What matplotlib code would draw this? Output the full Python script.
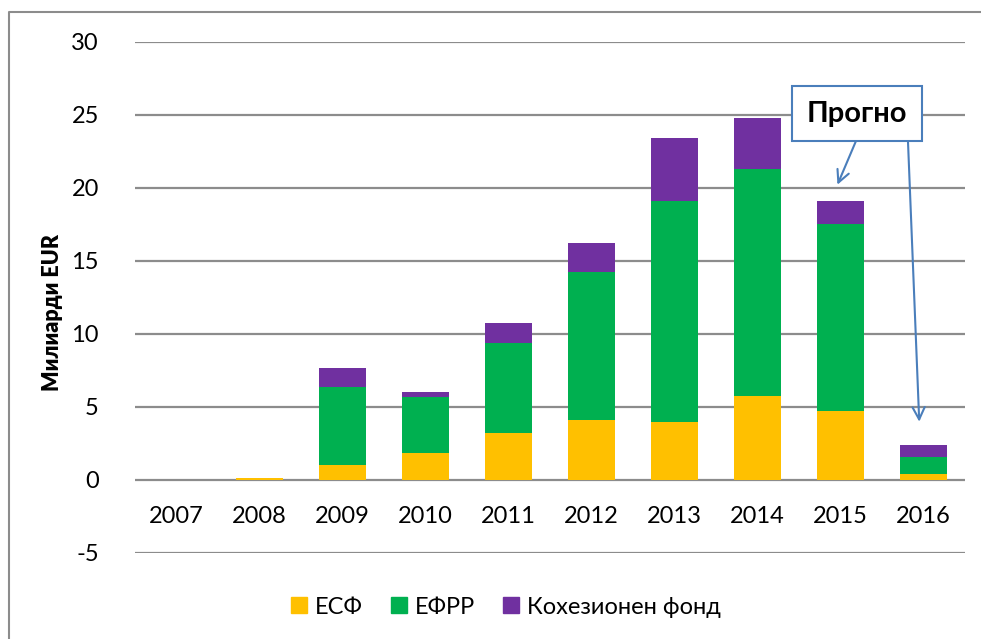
import numpy as np
import matplotlib.pyplot as plt
from matplotlib.lines import Line2D
from matplotlib.patches import Patch

plt.rcParams['font.family'] = ['Lato', 'DejaVu Sans']
plt.rcParams['axes.unicode_minus'] = False

godini = ['2007', '2008', '2009', '2010', '2011', '2012', '2013', '2014', '2015', '2016']
esf = [0.0, 0.15, 1.0, 1.85, 3.2, 4.1, 3.97, 5.75, 4.7, 0.4]
efrr = [0.0, 0.0, 5.35, 3.85, 6.2, 10.15, 15.15, 15.55, 12.85, 1.2]
kohezionen = [0.0, 0.0, 1.3, 0.35, 1.35, 1.95, 4.3, 3.5, 1.55, 0.8]

zhalt = '#FFC000'
zelen = '#00B050'
lilav = '#7030A0'
siv = '#8c8c8c'
sin = '#4a7ebb'

fig = plt.figure(figsize=(9.81, 6.39), dpi=100)
ax = fig.add_axes([0.1376, 0.1346, 0.8461, 0.7997])
ax.set_axisbelow(True)

x = np.arange(len(godini))
w = 0.57
esf_a = np.array(esf)
efrr_a = np.array(efrr)
ax.bar(x, esf, w, color=zhalt, zorder=3)
ax.bar(x, efrr, w, bottom=esf_a, color=zelen, zorder=3)
ax.bar(x, kohezionen, w, bottom=esf_a + efrr_a, color=lilav, zorder=3)

ax.set_xlim(-0.5, len(godini) - 0.5)
ax.set_ylim(-5, 30)
ax.set_yticks(range(-5, 31, 5))
ax.set_xticks(x)
ax.set_xticklabels(godini)
ax.grid(axis='y', color=siv, lw=1.6)
ax.tick_params(axis='both', length=0, labelsize=17)
ax.tick_params(axis='y', pad=26)
ax.tick_params(axis='x', pad=19)
for s in ['top', 'right', 'left']:
    ax.spines[s].set_visible(False)
ax.spines['bottom'].set_position(('data', 0))
ax.spines['bottom'].set_visible(False)

ax.set_ylabel('Милиарди EUR', fontsize=15.5, fontweight='heavy')
ax.yaxis.set_label_coords(-0.087, 0.47)

# анотация за прогнозата
ax.annotate('', xy=(7.95, 20.05), xytext=(8.2, 23.4),
            arrowprops=dict(arrowstyle='->', color=sin, lw=1.5, mutation_scale=22))
ax.annotate('', xy=(8.95, 3.8), xytext=(8.81, 23.6),
            arrowprops=dict(arrowstyle='->', color=sin, lw=1.5, mutation_scale=22))
ax.text(8.2, 25.1, 'Прогно', ha='center', va='center', fontsize=21, fontweight='bold',
        zorder=5,
        bbox=dict(boxstyle='square,pad=0.5', facecolor='white', edgecolor=sin, lw=1.5))

handles = [Patch(color=zhalt), Patch(color=zelen), Patch(color=lilav)]
fig.legend(handles, ['ЕСФ', 'ЕФРР', 'Кохезионен фонд'], loc='center',
           bbox_to_anchor=(0.516, 0.05), ncol=3, frameon=False, fontsize=17,
           handlelength=0.65, handleheight=0.65, handletextpad=0.35, columnspacing=1.2)

# рамка около диаграмата
fig.add_artist(Line2D([0.0092, 0.0092, 1.0], [0.0, 0.981, 0.981],
                      transform=fig.transFigure, color=siv, lw=1.5))

fig.savefig('out.png', dpi=100)
